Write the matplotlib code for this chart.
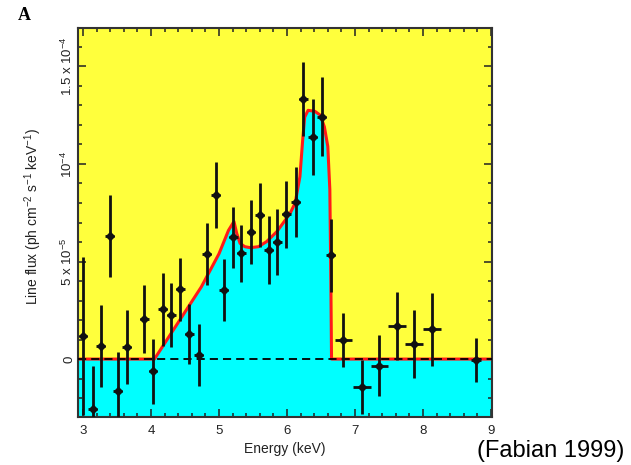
import matplotlib
matplotlib.use("Agg")
from matplotlib import pyplot as plt
from matplotlib.ticker import MultipleLocator

# data points, flux in units of 1e-5 ph cm^-2 s^-1 keV^-1
energy = [3.00, 3.14, 3.26, 3.39, 3.51, 3.64, 3.90, 4.03, 4.17, 4.30, 4.43, 4.56,
          4.70, 4.82, 4.95, 5.07, 5.21, 5.33, 5.47, 5.60, 5.73, 5.86, 5.99, 6.13,
          6.24, 6.38, 6.51, 6.64, 6.83, 7.10, 7.36, 7.62, 7.87, 8.13, 8.78]
flux = [1.18, -2.58, 0.68, 6.32, -1.62, 0.60, 2.05, -0.62, 2.55, 2.26, 3.57, 1.28,
        0.20, 5.37, 8.41, 3.54, 6.24, 5.42, 6.53, 7.38, 5.59, 5.98, 7.42, 8.07,
        13.33, 11.40, 12.43, 5.33, 0.97, -1.42, -0.34, 1.69, 0.77, 1.52, -0.05]
flux_err = [4.05, 2.2, 2.1, 2.1, 2.0, 1.9, 1.75, 1.67, 1.88, 1.64, 1.62, 1.54,
            1.6, 1.58, 1.67, 1.57, 1.58, 1.45, 1.64, 1.65, 1.75, 1.69, 1.73, 1.8,
            1.92, 1.94, 2.03, 1.87, 1.37, 1.37, 1.55, 1.73, 1.75, 1.88, 1.15]
energy_err = [0.065] * 28 + [0.13, 0.13, 0.13, 0.13, 0.13, 0.13, 0.07]

# disk line model (red curve)
model_e = [2.93, 4.05, 4.74, 5.00, 5.14, 5.22, 5.26, 5.31, 5.38, 5.46, 5.58, 5.70,
           5.85, 5.97, 6.05, 6.12, 6.19, 6.23, 6.26, 6.31, 6.41, 6.49, 6.55, 6.60,
           6.63, 6.645, 6.655, 9.02]
model_f = [0, 0, 3.7, 5.4, 6.6, 7.05, 6.45, 5.93, 5.76, 5.71, 5.76, 6.02,
           6.53, 7.1, 7.5, 8.0, 9.35, 11.2, 12.4, 12.75, 12.7, 12.5, 11.9, 10.9,
           8.7, 4.0, 0, 0]

ytick_vals = [0, 5, 10, 15]
ytick_labels = ['0', r'5 x 10$^{-5}$', r'10$^{-4}$', r'1.5 x 10$^{-4}$']

plt.rcParams['font.family'] = ['Liberation Sans', 'DejaVu Sans']
plt.rcParams['mathtext.fontset'] = 'custom'
plt.rcParams['mathtext.rm'] = 'Liberation Sans'

fig = plt.figure(figsize=(6.31, 4.65), dpi=100)
ax = fig.add_axes([0.1236, 0.1032, 0.6561, 0.8366])
ax.set_facecolor('#ffff3c')

ax.fill_between(model_e, -3, model_f, color='#00ffff', lw=0, zorder=1)
ax.plot(model_e, model_f, color='#ff1a1a', lw=2.2, zorder=2)
ax.axhline(0, color='black', lw=1.3, dashes=(4.5, 2.8), zorder=3)
ax.errorbar(energy, flux, yerr=flux_err, xerr=energy_err, fmt='D', color='#111111',
            ms=4, elinewidth=2.0, capsize=0, zorder=4)

ax.set_xlim(2.926, 9.015)
ax.set_ylim(-2.97, 16.97)
ax.set_xticks([3, 4, 5, 6, 7, 8, 9])
ax.xaxis.set_minor_locator(MultipleLocator(0.2))
ax.set_yticks(ytick_vals)
ax.set_yticklabels(ytick_labels, rotation=90, va='center')
ax.yaxis.set_minor_locator(MultipleLocator(1))
ax.tick_params(which='both', direction='in', top=True, right=True,
               labelsize=9.5, colors='#222222', width=1.1)
ax.tick_params(which='major', length=6)
ax.tick_params(which='minor', length=3)
ax.tick_params(axis='x', pad=6)
ax.tick_params(axis='y', pad=2)
for s in ax.spines.values():
    s.set_linewidth(1.5)
    s.set_color('#333333')

ax.set_xlabel('Energy (keV)', fontsize=10, color='#222222')
ax.set_ylabel(r'Line flux (ph cm$^{-2}$ s$^{-1}$ keV$^{-1}$)', fontsize=10, color='#222222')
ax.xaxis.set_label_coords(0.5, -0.065)
ax.yaxis.set_label_coords(-0.082, 0.515)

fig.text(0.029, 0.957, 'A', family='Liberation Serif', fontweight='bold', fontsize=13)
fig.text(0.99, 0.017, '(Fabian 1999)', fontsize=17, ha='right', va='baseline')

fig.savefig('out.png', dpi=100)
